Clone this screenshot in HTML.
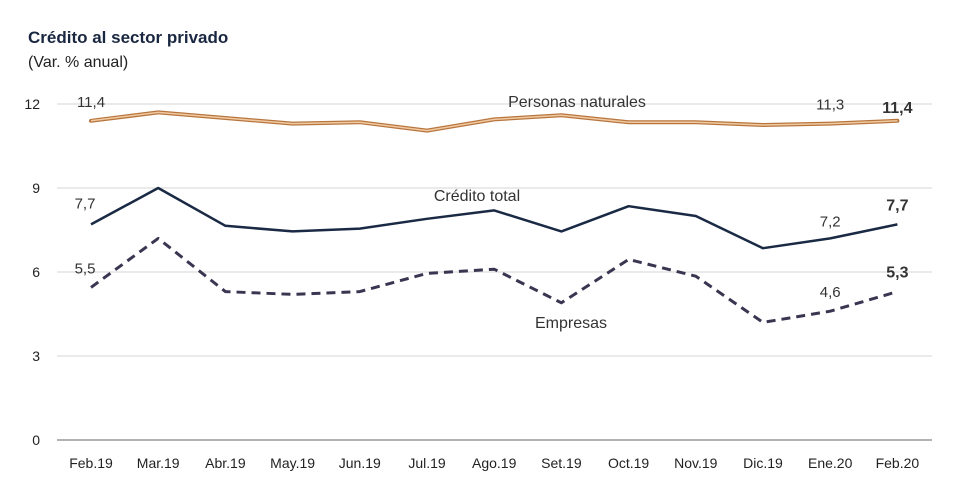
<!DOCTYPE html>
<html><head><meta charset="utf-8">
<style>
body{margin:0;background:#fff;width:980px;height:499px;overflow:hidden;font-family:"Liberation Sans",sans-serif}
</style></head>
<body>
<svg id="chart" width="980" height="499" xmlns="http://www.w3.org/2000/svg" font-family="Liberation Sans, sans-serif">
<text x="28" y="43" font-size="17" font-weight="bold" fill="#1a2740">Crédito al sector privado</text>
<text x="28" y="67" font-size="16" fill="#222">(Var. % anual)</text>
<g id="grid"></g><g id="series"></g><g id="labels"></g>
</svg>
<script>
const categories=["Feb.19","Mar.19","Abr.19","May.19","Jun.19","Jul.19","Ago.19","Set.19","Oct.19","Nov.19","Dic.19","Ene.20","Feb.20"];
const personas=[11.4,11.7,11.5,11.3,11.35,11.05,11.45,11.6,11.35,11.35,11.25,11.3,11.4];
const total=[7.7,9.0,7.65,7.45,7.55,7.9,8.2,7.45,8.35,8.0,6.85,7.2,7.7];
const empresas=[5.45,7.2,5.3,5.2,5.3,5.95,6.1,4.9,6.45,5.85,4.2,4.6,5.3];
const yTicks=[0,3,6,9,12];
const NS="http://www.w3.org/2000/svg";
const x=i=>91+i*67.2;
const y=v=>440-v*28;
function mk(tag,attrs,parent){const e=document.createElementNS(NS,tag);for(const k in attrs)e.setAttribute(k,attrs[k]);parent.appendChild(e);return e;}
const grid=document.getElementById('grid'),ser=document.getElementById('series'),lab=document.getElementById('labels');
yTicks.forEach(t=>{
  const l=mk('line',{x1:57,x2:932,y1:y(t),y2:y(t),stroke:t===0?'#999':'#ddd','stroke-width':t===0?1.5:1.2},grid);
  
  
  const tx=mk('text',{x:40,y:y(t)+5,'font-size':14,'text-anchor':'end',fill:'#222'},grid);
  tx.textContent=t;
  
  
});
categories.forEach((c,i)=>{
  const tx=mk('text',{x:x(i),y:468,'font-size':14,'text-anchor':'middle',fill:'#222'},grid);
  tx.textContent=c;
  
  
});
const pts=a=>a.map((v,i)=>x(i)+','+y(v)).join(' ');
let p=mk('polyline',{points:pts(personas),fill:'none',stroke:'#b8763f','stroke-width':4,'stroke-linejoin':'round','stroke-linecap':'round'},ser);


p=mk('polyline',{points:pts(personas),fill:'none',stroke:'#f0c9a0','stroke-width':1.5,'stroke-linejoin':'round'},ser);


p=mk('polyline',{points:pts(total),fill:'none',stroke:'#1a2a44','stroke-width':2.5,'stroke-linejoin':'round'},ser);


p=mk('polyline',{points:pts(empresas),fill:'none',stroke:'#3b3552','stroke-width':3,'stroke-dasharray':'9,6','stroke-linejoin':'round'},ser);


function label(txt,xx,yy,bold,name,size){
  const t=mk('text',{x:xx,y:yy,'font-size':size||(bold?16:15),'font-weight':bold?'bold':'normal','text-anchor':'middle',fill:'#333'},lab);
  t.textContent=txt;
  
  
}
const fmt=v=>v.toFixed(1).replace('.',',');
label(fmt(personas[0]),x(0),y(personas[0])-14,false,'value-label');
label(fmt(personas[11]),x(11),y(personas[11])-14,false,'value-label');
label(fmt(personas[12]),x(12),y(personas[12])-8,true,'value-label');
label(fmt(total[0]),x(0)-6,y(total[0])-16,false,'value-label');
label(fmt(total[11]),x(11),y(total[11])-12,false,'value-label');
label(fmt(total[12]),x(12),y(total[12])-14,true,'value-label');
label(fmt(empresas[0]),x(0)-6,y(empresas[0])-14,false,'value-label');
label(fmt(empresas[11]),x(11),y(empresas[11])-14,false,'value-label');
label(fmt(empresas[12]),x(12),y(empresas[12])-14,true,'value-label');
label('Personas naturales',577,107,false,'series-label-personas',16);
label('Crédito total',477,201,false,'series-label-total',16);
label('Empresas',571,328,false,'series-label-empresas',16);
</script>
</body></html>
